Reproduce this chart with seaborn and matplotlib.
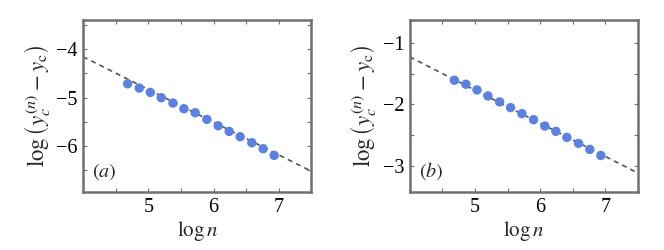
import numpy as np
import pandas as pd
import matplotlib
matplotlib.use("Agg")
import matplotlib.pyplot as plt
import seaborn as sns
from matplotlib.ticker import MultipleLocator

# log n values (same for both panels)
log_n = [4.684, 4.862, 5.031, 5.199, 5.378, 5.546, 5.719,
         5.898, 6.071, 6.240, 6.408, 6.587, 6.760, 6.929]
# panel (a) data
y_a = [-4.713, -4.803, -4.893, -5.003, -5.114, -5.232, -5.315,
       -5.453, -5.585, -5.702, -5.813, -5.938, -6.062, -6.200]
# panel (b) data
y_b = [-1.607, -1.672, -1.764, -1.862, -1.959, -2.051, -2.149,
       -2.247, -2.350, -2.436, -2.534, -2.631, -2.729, -2.827]
# fitted dashed lines: endpoints at x = 4.0 and x = 7.5
fit_x = [4.0, 7.5]
fit_a = [-4.152, -6.530]
fit_b = [-1.228, -3.114]

panels = [
    {"y": y_a, "fit": fit_a, "ylim": (-6.96, -3.39), "label": "a",
     "yticks": [-6, -5, -4], "left": 0.125},
    {"y": y_b, "fit": fit_b, "ylim": (-3.42, -0.63), "label": "b",
     "yticks": [-3, -2, -1], "left": 0.617},
]

sns.set_theme(style="white")
plt.rcParams['font.family'] = ['Liberation Serif', 'DejaVu Serif']
plt.rcParams['mathtext.fontset'] = 'stix'

fig = plt.figure(figsize=(6.64, 2.5), dpi=100)
frame_col = "#707070"

for p in panels:
    ax = fig.add_axes([p["left"], 0.232, 0.344, 0.688])
    df = pd.DataFrame({"x": log_n, "y": p["y"]})
    fit_df = pd.DataFrame({"x": fit_x, "y": p["fit"]})
    sns.lineplot(data=fit_df, x="x", y="y", ax=ax, color="#555555",
                 linestyle=(0, (3, 2.5)), linewidth=1.2, zorder=2)
    sns.scatterplot(data=df, x="x", y="y", ax=ax, color="#5b82e3",
                    s=46, edgecolor="none", zorder=3)
    ax.set_xlim(4.0, 7.5)
    ax.set_ylim(*p["ylim"])
    ax.set_xticks([5, 6, 7])
    ax.set_yticks(p["yticks"])
    ax.xaxis.set_minor_locator(MultipleLocator(0.5))
    ax.yaxis.set_minor_locator(MultipleLocator(0.5))
    ax.tick_params(which="both", direction="in", top=True, right=True,
                   bottom=True, left=True, color=frame_col,
                   labelsize=14.5, labelcolor="black", pad=4)
    ax.tick_params(which="major", length=3, width=0.8)
    ax.tick_params(which="minor", length=3, width=0.8)
    for s in ax.spines.values():
        s.set_color(frame_col)
        s.set_linewidth(1.8)
    ax.set_xlabel(r"$\log n$", fontsize=15, labelpad=2)
    ax.set_ylabel(r"$\log\left(y_c^{(n)}-y_\mathrm{c}\right)$",
                  fontsize=16.5, labelpad=3)
    ax.text(0.04, 0.06, r"$(\mathit{" + p["label"] + r"})$",
            transform=ax.transAxes, fontsize=14.5, ha="left", va="bottom")
    # unicode minus for ticks
    ax.set_yticklabels(["\u2212%d" % abs(t) for t in p["yticks"]])

fig.savefig("out.png", dpi=100)
